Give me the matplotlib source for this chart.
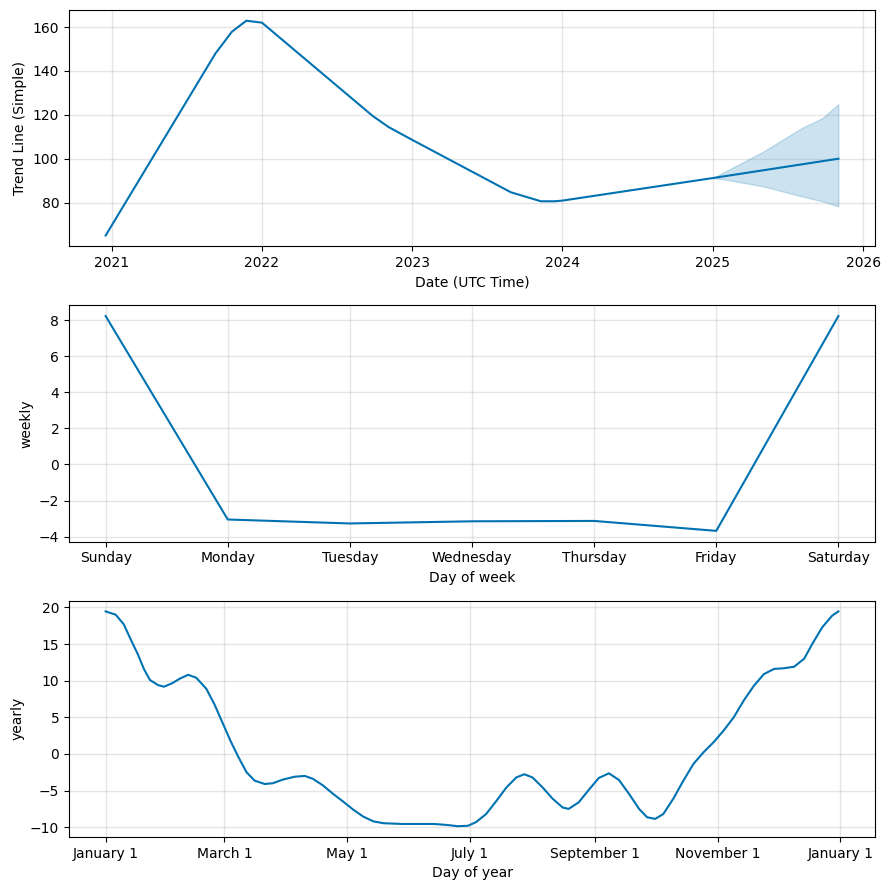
import pandas as pd
import matplotlib
matplotlib.use('Agg')
import matplotlib.pyplot as plt
from matplotlib.dates import MonthLocator, DateFormatter

# Trend
trend_dates = ['2020-12-17', '2021-09-10', '2021-10-20', '2021-11-24', '2022-01-01',
               '2022-09-27', '2022-11-05', '2023-01-01', '2023-08-29', '2023-11-10',
               '2023-12-13', '2024-01-01', '2025-01-01', '2025-11-02']
trend_values = [65.0, 148.0, 157.9, 162.9, 162.0, 119.5, 114.4, 108.6, 84.7, 80.6,
                80.6, 80.9, 91.2, 100.0]

band_dates = ['2025-01-01', '2025-01-31', '2025-05-04', '2025-08-04', '2025-09-24', '2025-11-02']
band_upper = [91.2, 94.2, 103.3, 113.9, 118.5, 124.9]
band_lower = [91.2, 90.5, 87.4, 82.9, 80.6, 78.3]

# Weekly
week_days = ['Sunday', 'Monday', 'Tuesday', 'Wednesday', 'Thursday', 'Friday', 'Saturday']
weekly_values = [8.22, -3.05, -3.27, -3.15, -3.13, -3.68, 8.22]

# Yearly (jour de l'annee -> valeur)
year_days = [0, 5, 9, 12, 16, 19, 22, 26, 29, 33, 37, 41, 45, 50, 54, 58, 62, 66,
             70, 74, 79, 83, 88, 94, 99, 103, 108, 113, 118, 123, 128, 133, 138,
             147, 155, 163, 170, 175, 180, 184, 189, 194, 199, 204, 208, 212, 217,
             222, 227, 230, 235, 240, 245, 250, 255, 260, 265, 269, 273, 277, 282,
             287, 292, 297, 302, 307, 312, 317, 322, 327, 332, 337, 342, 347, 351,
             356, 361, 364]
yearly_values = [19.45, 19.0, 17.7, 15.9, 13.6, 11.6, 10.1, 9.4, 9.18, 9.64, 10.3,
                 10.8, 10.4, 8.9, 6.8, 4.3, 1.8, -0.45, -2.5, -3.64, -4.1, -4.0,
                 -3.5, -3.1, -3.0, -3.4, -4.3, -5.45, -6.5, -7.6, -8.55, -9.2, -9.45,
                 -9.55, -9.55, -9.55, -9.7, -9.86, -9.8, -9.3, -8.2, -6.45, -4.6,
                 -3.2, -2.77, -3.2, -4.55, -6.1, -7.3, -7.5, -6.6, -4.9, -3.27,
                 -2.64, -3.55, -5.45, -7.5, -8.64, -8.86, -8.2, -6.1, -3.64, -1.36,
                 0.23, 1.6, 3.2, 5.0, 7.3, 9.3, 10.9, 11.6, 11.7, 11.9, 13.0, 15.0,
                 17.3, 18.9, 19.45]

color = '#0072B2'

fig, axes = plt.subplots(3, 1, figsize=(8.88, 8.9), dpi=100)
fig.subplots_adjust(left=0.0777, right=0.9854, top=0.9888, bottom=0.0596, hspace=0.25)

# Trend
ax = axes[0]
ax.plot(pd.to_datetime(trend_dates), trend_values, ls='-', c=color)
ax.fill_between(pd.to_datetime(band_dates), band_lower, band_upper, color=color, alpha=0.2)
ax.grid(True, which='major', c='gray', ls='-', lw=1, alpha=0.2)
ax.set_xlabel('Date (UTC Time)')
ax.set_ylabel('Trend Line (Simple)')

# Weekly
ax = axes[1]
ax.plot(range(len(week_days)), weekly_values, ls='-', c=color)
ax.set_xticks(range(len(week_days)))
ax.set_xticklabels(week_days)
ax.grid(True, which='major', c='gray', ls='-', lw=1, alpha=0.2)
ax.set_xlabel('Day of week')
ax.set_ylabel('weekly')

# Yearly
ax = axes[2]
yd = pd.Timestamp('2017-01-01') + pd.to_timedelta(year_days, unit='D')
ax.plot(yd, yearly_values, ls='-', c=color)
ax.xaxis.set_major_locator(MonthLocator(range(1, 13), bymonthday=1, interval=2))
ax.xaxis.set_major_formatter(DateFormatter('%B %-d'))
ax.grid(True, which='major', c='gray', ls='-', lw=1, alpha=0.2)
ax.set_xlabel('Day of year')
ax.set_ylabel('yearly')

plt.savefig('out.png')
